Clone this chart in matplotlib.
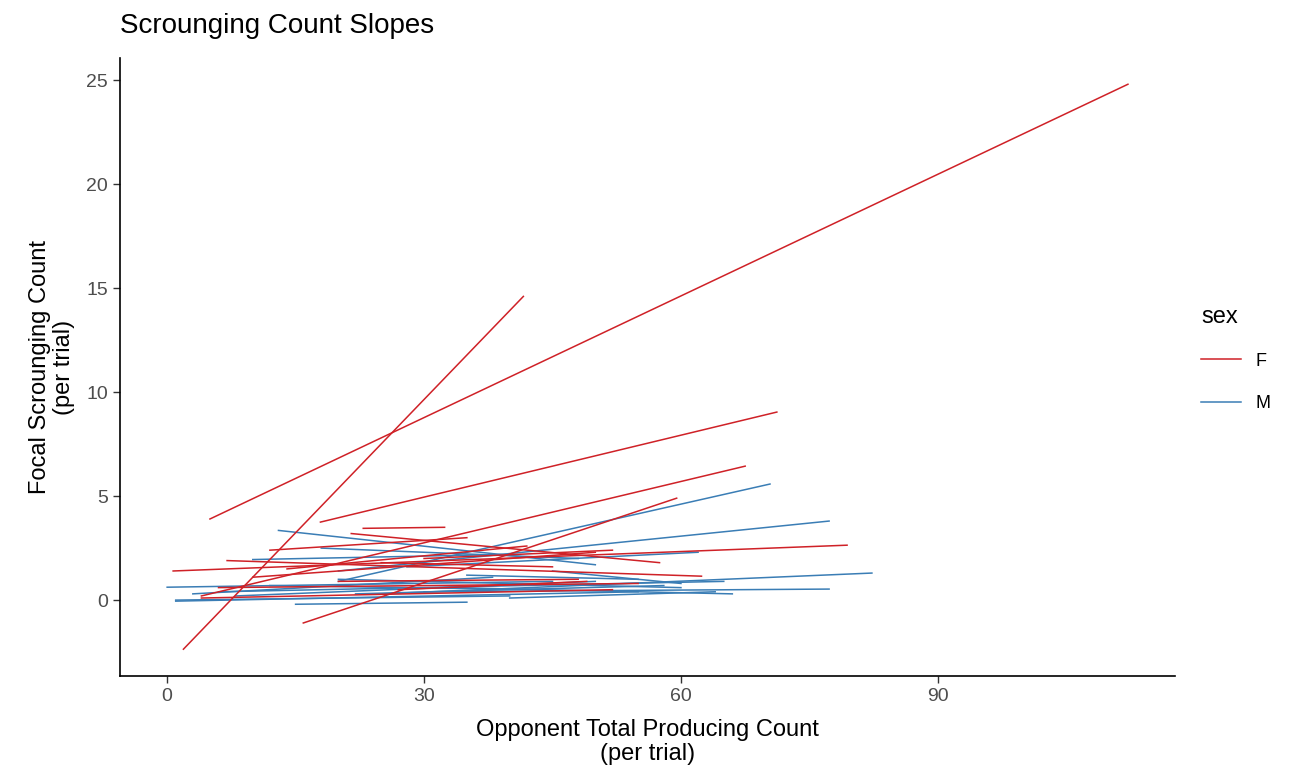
import matplotlib.pyplot as plt
from matplotlib.lines import Line2D

plt.rcParams['font.family'] = ['Liberation Sans', 'DejaVu Sans']

# per-individual fitted slopes: start/end of each line (x = opponent producing, y = focal scrounging)
f_x0 = [5.0, 1.9, 17.9, 4.0, 0.7, 15.9, 22.9, 21.5, 7.0, 12.0, 6.0, 10.0, 25.0, 20.0, 4.0, 30.0, 14.0, 27.0]
f_x1 = [112.2, 41.6, 71.2, 67.5, 79.4, 59.5, 32.4, 57.5, 62.4, 35.0, 55.0, 50.0, 45.0, 48.0, 52.0, 52.0, 42.0, 49.0]
f_y0 = [3.9, -2.36, 3.75, 0.2, 1.4, -1.1, 3.45, 3.2, 1.9, 2.4, 0.6, 1.1, 1.8, 0.9, 0.1, 2.0, 1.5, 0.5]
f_y1 = [24.8, 14.6, 9.04, 6.44, 2.64, 4.9, 3.5, 1.8, 1.15, 3.0, 0.8, 2.3, 1.6, 1.0, 0.5, 2.4, 2.6, 0.9]

m_x0 = [20.0, 13.0, 20.0, 25.0, 30.0, 0.0, 1.0, 1.0, 15.0, 10.0, 6.0, 20.0, 35.0, 18.0, 40.0, 8.0, 28.0, 3.0, 45.0, 22.0, 12.0, 33.0]
m_x1 = [70.4, 50.0, 77.3, 82.3, 77.3, 45.0, 40.0, 55.0, 35.0, 40.0, 65.0, 60.0, 55.0, 48.0, 64.0, 50.0, 62.0, 38.0, 60.0, 58.0, 44.0, 66.0]
m_y0 = [0.9, 3.35, 1.4, 0.3, 0.4, 0.62, 0.0, -0.05, -0.2, 1.95, 0.4, 1.0, 1.2, 2.5, 0.1, 0.2, 1.6, 0.3, 1.4, 0.3, 0.7, 0.6]
m_y1 = [5.58, 1.7, 3.8, 1.3, 0.53, 0.9, 0.2, 0.4, -0.1, 2.2, 0.9, 0.6, 1.0, 2.0, 0.4, 0.9, 2.3, 1.1, 0.8, 0.7, 0.5, 0.3]

red = '#cf2127'
blue = '#3a7db5'
txt = '#4d4d4d'

fig = plt.figure(figsize=(13.02, 7.8), dpi=100)
ax = fig.add_axes([0.0922, 0.1333, 0.8103, 0.7923])

for i in range(len(m_x0)):
    ax.plot([m_x0[i], m_x1[i]], [m_y0[i], m_y1[i]], color=blue, lw=1.1)
for i in range(len(f_x0)):
    ax.plot([f_x0[i], f_x1[i]], [f_y0[i], f_y1[i]], color=red, lw=1.1)

ax.set_xlim(-5.5, 117.7)
ax.set_ylim(-3.65, 26.06)
ax.set_xticks([0, 30, 60, 90])
ax.set_yticks([0, 5, 10, 15, 20, 25])
for s in ['top', 'right']:
    ax.spines[s].set_visible(False)
for s in ['left', 'bottom']:
    ax.spines[s].set_linewidth(1.2)
ax.tick_params(length=5, width=1, labelsize=14, labelcolor=txt, color='#333333')

ax.set_xlabel('Opponent Total Producing Count\n(per trial)', fontsize=17, linespacing=1.15, labelpad=10)
ax.set_ylabel('Focal Scrounging Count\n(per trial)', fontsize=17, linespacing=1.15, labelpad=8)
ax.set_title('Scrounging Count Slopes', loc='left', fontsize=20, pad=18)

handles = [Line2D([], [], color=red, lw=1.1), Line2D([], [], color=blue, lw=1.1)]
leg = fig.legend(handles, ['F', 'M'], title='sex', loc='center left',
                 bbox_to_anchor=(0.91, 0.54), frameon=False, fontsize=13,
                 title_fontsize=17, handlelength=2.2, labelspacing=1.4)
leg._legend_box.align = 'left'

fig.savefig('out.png', dpi=100)
